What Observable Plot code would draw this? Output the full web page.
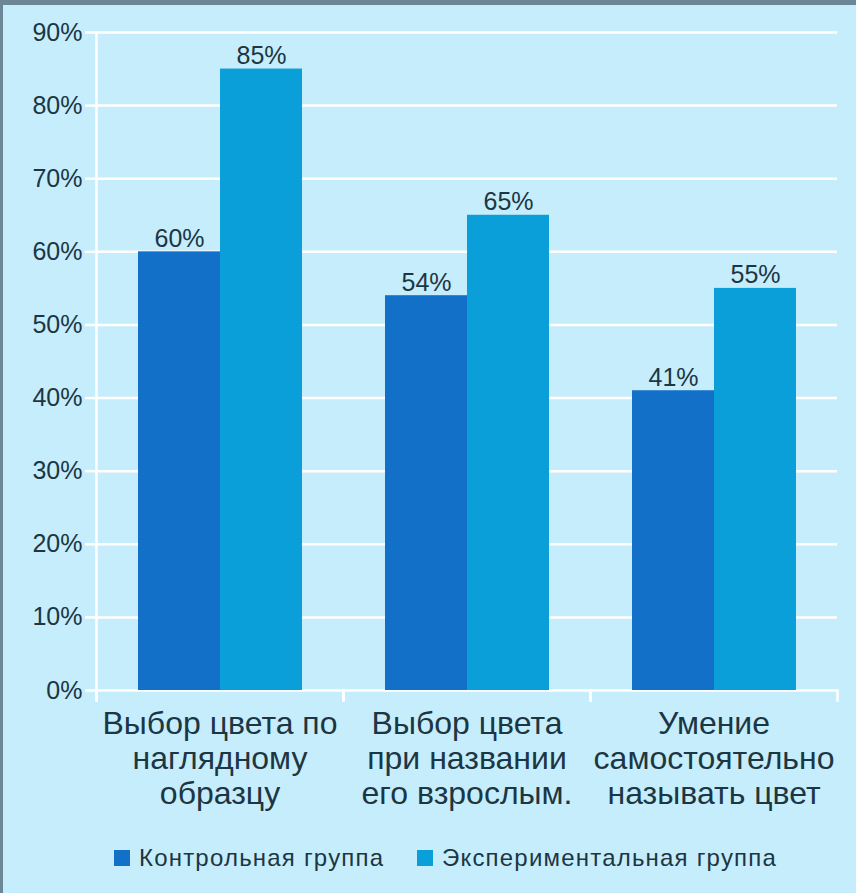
<!DOCTYPE html>
<html>
<head>
<meta charset="utf-8">
<script src="https://cdn.jsdelivr.net/npm/d3@7"></script>
<script src="https://cdn.jsdelivr.net/npm/@observablehq/plot@0.6"></script>
<style>
  html, body { margin: 0; padding: 0; }
  body {
    width: 856px; height: 893px; position: relative; overflow: hidden;
    background: #c6edfb;
    font-family: "Liberation Sans", Arial, sans-serif;
  }
  #chart { position: absolute; left: 0; top: 0; }
  #borderTop { position: absolute; left: 0; top: 0; width: 856px; height: 5px; background: #6b8796; }
  #borderLeft { position: absolute; left: 0; top: 0; width: 3px; height: 893px; background: #6b8796; }
  #legend { position: absolute; left: 0; top: 843px; width: 856px; height: 30px;
    font-size: 24px; letter-spacing: 1.2px; color: #1c3644; white-space: nowrap; }
  #legend .item { position: absolute; top: 0; display: flex; align-items: center; height: 30px; }
  #legend .sw { width: 16px; height: 16px; margin-right: 9px; }
</style>
</head>
<body>
<div id="chart"></div>
<div id="legend"></div>
<div id="borderTop"></div>
<div id="borderLeft"></div>
<script>
const categories = [
  "Выбор цвета по наглядному образцу",
  "Выбор цвета при названии его взрослым.",
  "Умение самостоятельно называть цвет"
];
const categoryLabels = [
  "Выбор цвета по\nнаглядному\nобразцу",
  "Выбор цвета\nпри названии\nего взрослым.",
  "Умение\nсамостоятельно\nназывать цвет"
];
const groups = ["Контрольная группа", "Экспериментальная группа"];
const controlValues = [60, 54, 41];
const experimentalValues = [85, 65, 55];
const yTicks = [0, 10, 20, 30, 40, 50, 60, 70, 80, 90];
const groupColors = ["#1270c9", "#0a9fd9"];
const legendLeft = [114, 417];
const textColor = "#1c3644";

const rows = [];
categories.forEach((c, i) => {
  rows.push({category: c, group: groups[0], value: controlValues[i]});
  rows.push({category: c, group: groups[1], value: experimentalValues[i]});
});

const chart = Plot.plot({
  width: 856,
  height: 820,
  marginLeft: 96,
  marginRight: 19,
  marginTop: 32,
  marginBottom: 130,
  style: {background: "transparent", fontFamily: "'Liberation Sans', Arial, sans-serif", color: textColor},
  fx: {domain: categories, paddingInner: 0, paddingOuter: 0, label: null},
  x: {domain: groups, paddingInner: 0, paddingOuter: 0.5, axis: null},
  y: {domain: [0, 90], label: null},
  color: {domain: groups, range: groupColors},
  marks: [
    Plot.ruleY(yTicks, {stroke: "white", strokeWidth: 2.5}),
    Plot.frame({anchor: "left", stroke: "white", strokeWidth: 2.5, insetTop: 658, insetBottom: -10}),
    Plot.frame({anchor: "right", stroke: "white", strokeWidth: 2.5, insetTop: 658, insetBottom: -10}),
    Plot.frame({anchor: "left", fx: () => categories[0], stroke: "white", strokeWidth: 2.5, insetBottom: -10}),
    Plot.barY(rows, {fx: "category", x: "group", y: "value", fill: "group"}),
    Plot.text(rows, {fx: "category", x: "group", y: "value", text: d => d.value + "%",
      lineAnchor: "bottom", dy: -5, fontSize: 25, fill: textColor}),
    Plot.axisY({ticks: yTicks, tickFormat: d => d + "%", tickSize: 11, tickPadding: 3,
      stroke: "white", strokeWidth: 2.5, fill: textColor, fontSize: 25, label: null}),
    Plot.axisFx({anchor: "bottom", tickSize: 0, tickPadding: 19, fontSize: 32, lineHeight: 1.09,
      tickFormat: d => categoryLabels[categories.indexOf(d)], fill: textColor, label: null})
  ]
});
document.getElementById("chart").appendChild(chart);

const legend = document.getElementById("legend");
groups.forEach((g, i) => {
  const item = document.createElement("div");
  item.className = "item";
  item.style.left = legendLeft[i] + "px";
  const sw = document.createElement("span");
  sw.className = "sw";
  sw.style.background = groupColors[i];
  const label = document.createElement("span");
  label.textContent = g;
  item.appendChild(sw);
  item.appendChild(label);
  legend.appendChild(item);
});
</script>
</body>
</html>
